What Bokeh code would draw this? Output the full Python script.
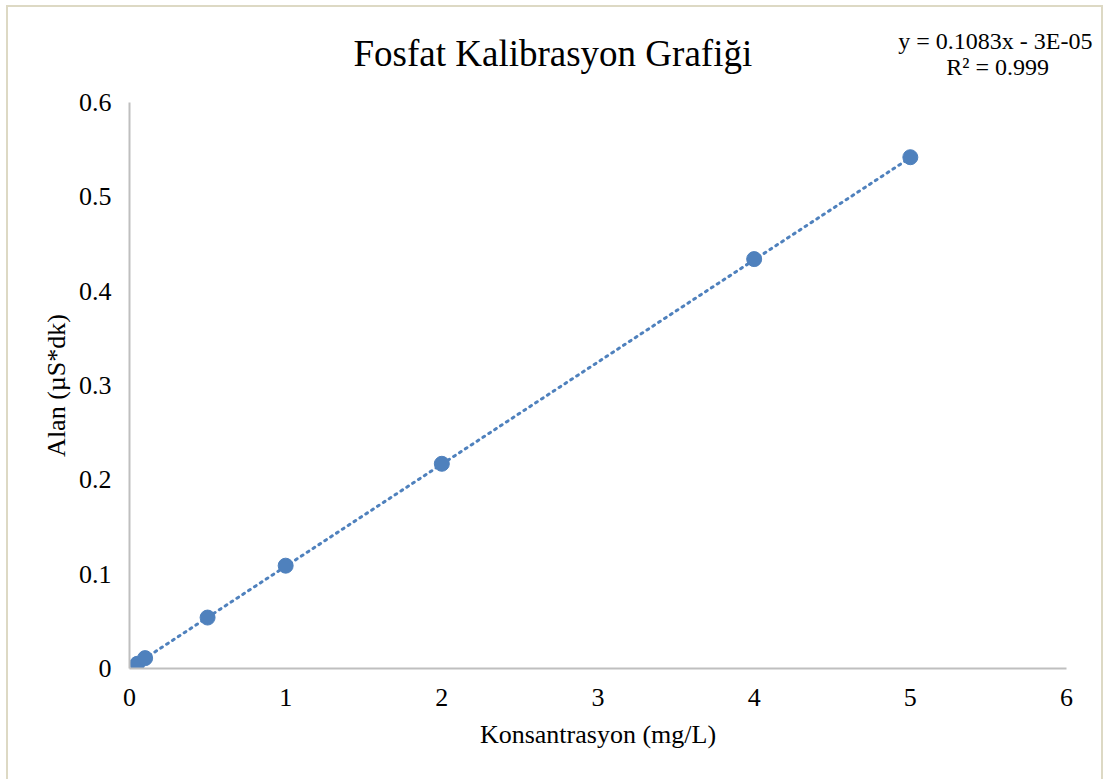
from bokeh.plotting import figure
from bokeh.models import FixedTicker, Title
from bokeh.embed import file_html
from bokeh.resources import INLINE
import numpy as np

# Data
konsantrasyon = [0.05, 0.1, 0.5, 1, 2, 4, 5]
alan = [0.005, 0.011, 0.054, 0.109, 0.217, 0.434, 0.542]
slope = 0.1083
intercept = -0.00003
x_ticks = [0, 1, 2, 3, 4, 5, 6]
y_ticks = [0, 0.1, 0.2, 0.3, 0.4, 0.5, 0.6]
y_tick_labels = ["0", "0.1", "0.2", "0.3", "0.4", "0.5", "0.6"]
equation_lines = ["y = 0.1083x - 3E-05", "R² = 0.999"]

FONT = "Liberation Serif"
BLUE = "#4F81BD"
FRAME_COL = "#DDD9C4"

FL, FR, FT, FB = 129, 1066, 102, 668  # frame edges in page pixels
W, H = 1115, 779

p = figure(width=W, height=H, output_backend="svg", toolbar_location=None,
           x_range=(0, 6), y_range=(0, 0.6),
           min_border_left=FL, min_border_right=W - FR, min_border_top=FT, min_border_bottom=H - FB)
p.frame_width = FR - FL
p.frame_height = FB - FT
p.outline_line_color = None
p.grid.visible = False
p.background_fill_color = "white"
p.border_fill_color = None
g = f"linear-gradient({FRAME_COL},{FRAME_COL})"
p.styles = {
    "background": (f"{g} 6px 5px / 2px 800px no-repeat, "
                   f"{g} 1101px 5px / 2px 800px no-repeat, "
                   f"{g} 6px 5px / 1097px 2px no-repeat, white")
}

# trendline
tx = np.array([min(konsantrasyon), max(konsantrasyon)])
ty = slope * tx + intercept
p.line(tx, ty, line_color=BLUE, line_width=3, line_dash="2 5", line_cap="round")
p.scatter(konsantrasyon, alan, size=15, fill_color=BLUE, line_color=BLUE)

for ax in (p.xaxis[0], p.yaxis[0]):
    ax.axis_line_color = "#BFBFBF"
    ax.axis_line_width = 2
    ax.major_tick_line_color = None
    ax.minor_tick_line_color = None
    ax.major_label_text_font = FONT
    ax.major_label_text_font_size = "26px"
    ax.major_label_text_color = "black"
    ax.axis_label_text_font = FONT
    ax.axis_label_text_font_size = "26px"
    ax.axis_label_text_font_style = "normal"
    ax.axis_label_text_color = "black"

p.xaxis.ticker = FixedTicker(ticks=x_ticks)
p.yaxis.ticker = FixedTicker(ticks=y_ticks)
p.yaxis.major_label_overrides = {t: l for t, l in zip(y_ticks, y_tick_labels)}
p.xaxis.major_label_standoff = 14
p.yaxis.major_label_standoff = 12
p.xaxis.axis_label = "Konsantrasyon (mg/L)"
p.yaxis.axis_label = "Alan (µS*dk)"
p.xaxis.axis_label_standoff = 11
p.yaxis.axis_label_standoff = 5

# main title (panel nearest the frame)
p.add_layout(Title(text="Fosfat Kalibrasyon Grafiği", align="left", offset=353 - FL,
                   text_font=FONT, text_font_size="37px", text_font_style="normal",
                   text_color="black", standoff=58), "above")

# trendline equation, pulled down beside the title; second line indented to look centred
eq_text = equation_lines[0] + "\n" + "\u00a0" * 8 + equation_lines[1]
p.add_layout(Title(text=eq_text, align="right", offset=FR - 1092,
                   text_font=FONT, text_font_size="24px", text_font_style="normal",
                   text_line_height=1.0, text_color="black", standoff=-156), "above")

open("out.html", "w").write(file_html(p, INLINE))
